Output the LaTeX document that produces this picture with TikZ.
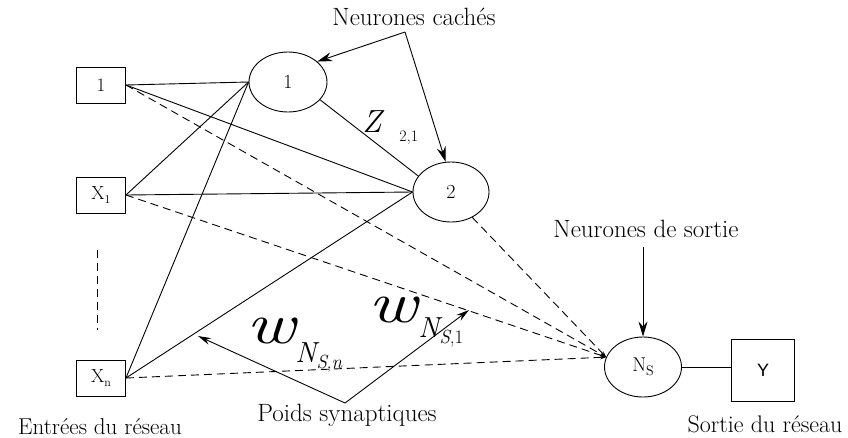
\documentclass[tikz,border=0pt]{standalone}
\usepackage{fontspec}
\newfontfamily\ysans{Liberation Sans}
\usetikzlibrary{shapes.geometric,arrows.meta}
\newcommand{\subsc}[2]{#1\raisebox{-3.5pt}{\fontsize{12}{12}\selectfont #2}}
\begin{document}
\begin{tikzpicture}[x=1pt,y=-1pt,
  line width=0.9pt,
  inbox/.style={draw,rectangle,minimum width=49pt,minimum height=36pt,inner sep=0pt,font=\fontsize{19}{22}\selectfont},
  neuron/.style={draw,ellipse,minimum width=77pt,minimum height=60pt,inner sep=0pt,font=\fontsize{20}{23}\selectfont},
  lbl/.style={font=\fontsize{25}{29}\selectfont,inner sep=0pt,anchor=base},
  wlbl/.style={inner sep=0pt,anchor=base west},
  dline/.style={dash pattern=on 8pt off 5pt,-{Stealth[length=6pt,width=4pt]}},
  bigarrow/.style={-{Stealth[length=15pt,width=9pt]}},
  midarrow/.style={-{Stealth[length=13pt,width=7pt]}}]
\useasboundingbox (0,0) rectangle (848,437);
% inputs
\node[inbox] (b1) at (101,85) {1};
\node[inbox] (bx1) at (101,195) {\subsc{X}{1}};
\node[inbox] (bxn) at (101,378) {\subsc{X}{n}};
\draw[dash pattern=on 8pt off 5pt] (97,250) -- (97,330);
% hidden
\node[neuron,minimum width=78pt] (n1) at (288,82) {1};
\node[neuron,minimum width=76pt] (n2) at (451,192) {2};
% output
\node[neuron] (ns) at (643,367) {N\raisebox{-3.5pt}{\fontsize{14}{14}\selectfont S}};
\node[draw,rectangle,minimum width=63pt,minimum height=62pt,inner sep=0pt,font=\ysans\fontsize{18}{21}\selectfont] (y) at (763,370) {Y};
% solid connections
\draw (b1.east) -- (n1.west);
\draw (b1.east) -- (n2.west);
\draw (bx1.east) -- (n1.west);
\draw (bx1.east) -- (n2.west);
\draw (bxn.east) -- (n1.west);
\draw (bxn.east) -- (n2.west);
\draw (n1.-29) -- (n2.154);
\draw (ns.east) -- (ns.east -| y.west);
% dashed connections to output
\coordinate (nsin) at (ns.165);
\draw[dline] (b1.east) -- (nsin);
\draw[dline] (bx1.east) -- (nsin);
\draw[dline] (bxn.east) -- (nsin);
\draw[dline] (n2.-50) -- (nsin);
% labels
\node[lbl] (nc) at (414,25) {Neurones cachés};
\coordinate (nca) at (405,32);
\draw[bigarrow] (nca) -- (n1.35);
\draw[bigarrow] (nca) -- (n2.100);
\node[lbl] (nds) at (646,237) {Neurones de sortie};
\coordinate (ndsa) at (643,247);
\draw[bigarrow] (ndsa) -- (ns.north);
\node[lbl] (ps) at (347,421) {Poids synaptiques};
\coordinate (psa) at (345,403);
\coordinate (pst1) at (198,336);
\coordinate (pst2) at (469,310);
\draw[midarrow] (psa) -- (pst1);
\draw[midarrow] (psa) -- (pst2);
\node[lbl,font=\fontsize{23}{27}\selectfont] (er) at (100,434) {Entrées du réseau};
\node[lbl,font=\fontsize{24}{28}\selectfont] (sr) at (765,432) {Sortie du réseau};
% weights
\node[wlbl,font=\itshape\fontsize{32}{36}\selectfont] (z) at (362,132) {Z};
\node[wlbl,font=\fontsize{16}{18}\selectfont] (zs) at (399,141) {2,1};
\node[wlbl,font=\itshape\fontsize{58}{60}\selectfont] (w1) at (246,343) {\scalebox{1.3}[1]{w}};
\node[wlbl,font=\itshape\fontsize{29}{32}\selectfont] (w1s) at (295,362) {N\raisebox{-6pt}{\fontsize{19}{20}\selectfont S\upshape,\itshape n}};
\node[wlbl,font=\itshape\fontsize{58}{60}\selectfont] (w2) at (368,322) {\scalebox{1.3}[1]{w}};
\node[wlbl,font=\itshape\fontsize{29}{32}\selectfont] (w2s) at (418,337) {N\raisebox{-6pt}{\fontsize{19}{20}\selectfont S\upshape,1}};
\end{tikzpicture}
\end{document}
